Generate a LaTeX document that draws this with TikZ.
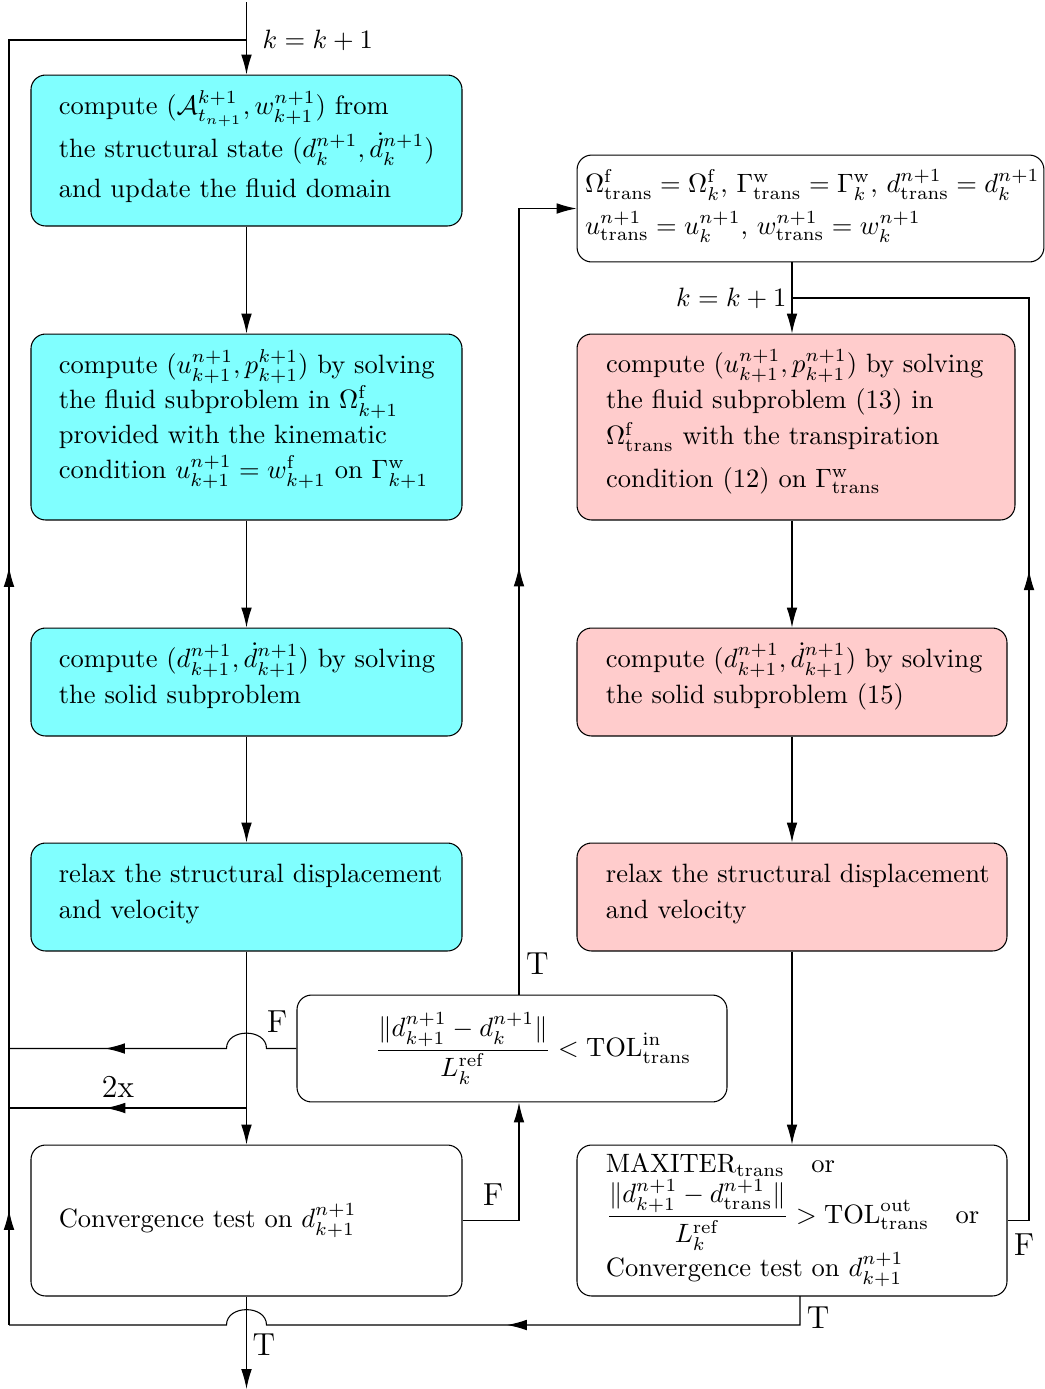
\documentclass[tikz,border=0pt]{standalone}
\usepackage{amsmath}
\usetikzlibrary{arrows.meta,decorations.markings}
\definecolor{lcyan}{RGB}{128,255,255}
\definecolor{lpink}{RGB}{255,204,204}
\tikzset{
  box/.style={draw, rounded corners=5.5pt, align=left, inner xsep=10.5pt, inner ysep=0pt,
    minimum width=162.5pt, text width=141.5pt, font=\fontsize{10}{13.6}\selectfont},
  cyanbox/.style={box, fill=lcyan},
  pinkbox/.style={box, fill=lpink},
  txtup/.style={execute at end node={\par\vspace*{#1}}},
  arr/.style={-{Latex[length=7.5pt,width=4pt]}},
  midarr/.style={postaction={decorate}, decoration={markings,
    mark=at position #1 with {\arrow{Latex[length=7.5pt,width=4pt]}}}},
  midarrtwo/.style 2 args={postaction={decorate}, decoration={markings,
    mark=at position #1 with {\arrow{Latex[length=7.5pt,width=4pt]}},
    mark=at position #2 with {\arrow{Latex[length=7.5pt,width=4pt]}}}},
  lbl/.style={font=\large, inner sep=0pt},
  klbl/.style={inner sep=0pt},
}
\newcommand\rmt[1]{\mathrm{#1}}
\begin{document}
\begin{tikzpicture}[x=0.377pt,y=-0.377pt]
\useasboundingbox (0,0) rectangle (1045,1389);

% left column
\node[cyanbox, minimum height=56.9pt, txtup=3pt] (A) at (246.5,150.5)
 {\mbox{compute $(\mathcal{A}^{k+1}_{t_{n+1}}, w^{n+1}_{k+1})$ from}\\[1.4pt]
  \mbox{the structural state $(d^{n+1}_k, \dot d^{n+1}_k)$}\\[1.4pt]
  \mbox{and update the fluid domain}};
\node[cyanbox, minimum height=70.1pt, font=\fontsize{10}{13.2}\selectfont, txtup=6pt] (B) at (246.5,427)
 {\mbox{compute $(u^{n+1}_{k+1}, p^{k+1}_{k+1})$ by solving}\\
  \mbox{the fluid subproblem in $\Omega^{\rmt f}_{k+1}$}\\
  \mbox{provided with the kinematic}\\
  \mbox{condition $u^{n+1}_{k+1} = w^{\rmt f}_{k+1}$ on $\Gamma^{\rmt w}_{k+1}$}};
\node[cyanbox, minimum height=40.7pt, txtup=4.5pt] (C) at (246.5,682)
 {\mbox{compute $(d^{n+1}_{k+1}, \dot d^{n+1}_{k+1})$ by solving}\\
  \mbox{the solid subproblem}};
\node[cyanbox, minimum height=40.7pt, txtup=2.3pt] (D) at (246.5,897)
 {\mbox{relax the structural displacement}\\
  \mbox{and velocity}};
\node[box, minimum height=56.9pt] (E) at (246.5,1220.5)
 {\mbox{Convergence test on $d^{n+1}_{k+1}$}};

% middle test box
\node[draw, rounded corners=5.5pt, inner sep=0pt, minimum width=162.1pt, minimum height=40.3pt] (T) at (512,1048.5)
 {\hspace*{16pt}$\dfrac{\|d^{n+1}_{k+1} - d^{n+1}_k\|}{L^{\rmt{ref}}_k} < \rmt{TOL}^{\rmt{in}}_{\rmt{trans}}$};

% right column
\node[box, minimum width=176pt, text width=170pt, inner xsep=3pt, minimum height=40.3pt, txtup=2pt] (R0) at (810.5,208.5)
 {\mbox{$\Omega^{\rmt f}_{\rmt{trans}} = \Omega^{\rmt f}_k$, $\Gamma^{\rmt w}_{\rmt{trans}} = \Gamma^{\rmt w}_k$, $d^{n+1}_{\rmt{trans}} = d^{n+1}_k$}\\[2.2pt]
  \mbox{$u^{n+1}_{\rmt{trans}} = u^{n+1}_k$, $w^{n+1}_{\rmt{trans}} = w^{n+1}_k$}};
\node[pinkbox, minimum width=165.1pt, text width=143.2pt, inner xsep=10.9pt, minimum height=70.1pt, txtup=4pt] (R1) at (796,427)
 {\mbox{compute $(u^{n+1}_{k+1}, p^{n+1}_{k+1})$ by solving}\\
  \mbox{the fluid subproblem (13) in}\\
  \mbox{$\Omega^{\rmt f}_{\rmt{trans}}$ with the transpiration}\\[2.4pt]
  \mbox{condition (12) on $\Gamma^{\rmt w}_{\rmt{trans}}$}};
\node[pinkbox, minimum width=162.1pt, text width=140.3pt, inner xsep=10.9pt, minimum height=40.7pt, txtup=4.5pt] (R2) at (792,682)
 {\mbox{compute $(d^{n+1}_{k+1}, \dot d^{n+1}_{k+1})$ by solving}\\
  \mbox{the solid subproblem (15)}};
\node[pinkbox, minimum width=162.1pt, text width=140.3pt, inner xsep=10.9pt, minimum height=40.7pt, txtup=2.3pt] (R3) at (792,897)
 {\mbox{relax the structural displacement}\\
  \mbox{and velocity}};
\node[box, minimum width=162.1pt, text width=140.3pt, inner xsep=10.9pt, minimum height=56.9pt] (R4) at (792,1220.5)
 {\mbox{$\rmt{MAXITER}_{\rmt{trans}}$\quad or}\\
  \mbox{$\dfrac{\|d^{n+1}_{k+1} - d^{n+1}_{\rmt{trans}}\|}{L^{\rmt{ref}}_k} > \rmt{TOL}^{\rmt{out}}_{\rmt{trans}}$\quad or}\\
  \mbox{Convergence test on $d^{n+1}_{k+1}$}};

% coordinates
\coordinate (topin) at (246.5,2);
\coordinate (J1) at (246.5,40);
\coordinate (L1) at (9,40);
\coordinate (L2) at (9,1108);
\coordinate (L3) at (9,1325);
\coordinate (LF) at (9,1048.5);
\coordinate (M2x) at (246.5,1108);
\coordinate (mx) at (519,0);
\coordinate (cx) at (792,0);
\coordinate (rx) at (1029,0);
\coordinate (KR) at (792,298);
\coordinate (R4o) at (800,1296);
\coordinate (bot) at (246.5,1389);

% left column connectors
\draw[arr] (topin) -- (A);
\draw[arr] (A) -- (B);
\draw[arr] (B) -- (C);
\draw[arr] (C) -- (D);
\draw[arr] (D) -- (E);
\draw[arr] (E) -- (bot);

% left rail
\draw[midarrtwo={43.4pt}{285.8pt}] (L3) -- (L1) -- (J1);
% F from inner test
\draw[midarr={-36.2pt}] (T.west) -- (266.5,1048.5) .. controls (266.5,1028) and (226.5,1028) .. (226.5,1048.5) -- (LF);
% 2x
\draw[midarr={53.2pt}] (M2x) -- (L2);
% bottom T from outer test
\draw[midarr={121.4pt}] (R4o) -- (800,1325) -- (266.5,1325) .. controls (266.5,1304.5) and (226.5,1304.5) .. (226.5,1325) -- (L3);

% middle
\draw[arr] (E.east) -| (T.south -| mx);
\draw[arr, midarr={161.4pt}] (T.north -| mx) |- (R0.west);

% right column connectors
\draw[arr] (R0.south -| cx) -- (R1.north -| cx);
\draw[arr] (R1.south -| cx) -- (R2.north -| cx);
\draw[arr] (R2.south -| cx) -- (R3.north -| cx);
\draw[arr] (R3.south -| cx) -- (R4.north -| cx);
\draw[midarr={253.3pt}] (R4.east) -- (R4.east -| rx) -- (rx |- KR) -- (KR);

% labels
\node[klbl, anchor=west] (k1) at (262,40) {$k = k+1$};
\node[klbl, anchor=east] (k2) at (787,298) {$k = k+1$};
\node[lbl] (tT) at (537.5,964) {T};
\node[lbl] (tF1) at (277,1022) {F};
\node[lbl] (t2x) at (118,1087) {2x};
\node[lbl] (tF2) at (493,1195) {F};
\node[lbl] (tF3) at (1024,1245) {F};
\node[lbl] (tT2) at (818,1318) {T};
\node[lbl] (tT3) at (264,1345) {T};
\end{tikzpicture}
\end{document}
